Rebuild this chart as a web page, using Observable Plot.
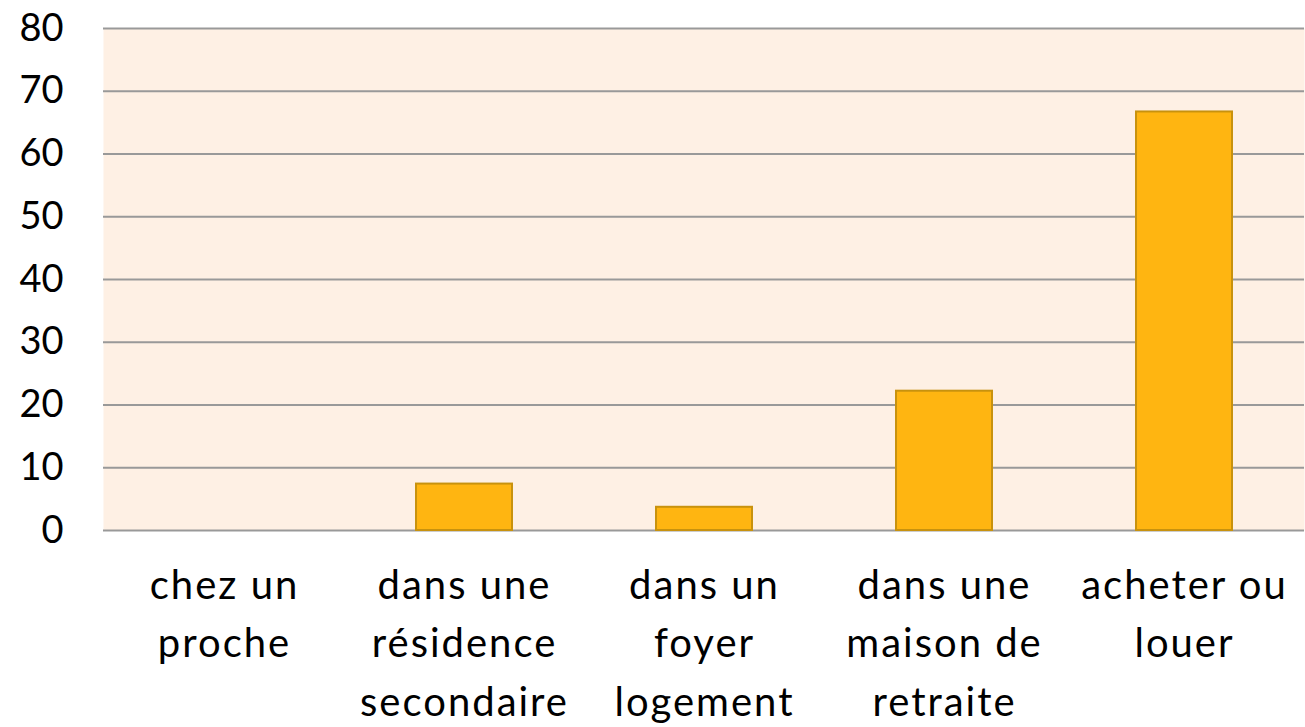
<!DOCTYPE html>
<html><head><meta charset="utf-8">
<script src="https://cdn.jsdelivr.net/npm/d3@7"></script>
<script src="https://cdn.jsdelivr.net/npm/@observablehq/plot@0.6"></script>
<style>
html,body{margin:0;padding:0;background:#fff;}
#chart svg{display:block;}
</style></head>
<body><div id="chart"></div>
<script>
const categories = ["chez un\nproche", "dans une\nrésidence\nsecondaire", "dans un\nfoyer\nlogement", "dans une\nmaison de\nretraite", "acheter ou\nlouer"];
const values = [0, 7.4, 3.7, 22.2, 66.7];
const yTicks = [0, 10, 20, 30, 40, 50, 60, 70, 80];

const data = categories.map((c, i) => ({cat: c, value: values[i]}));

const chart = Plot.plot({
  width: 1305,
  height: 727,
  marginLeft: 103,
  marginRight: 1,
  marginTop: 28,
  marginBottom: 197,
  style: {fontFamily: "Lato, sans-serif", fontSize: "38px", color: "#000", background: "#fff"},
  x: {domain: categories, paddingInner: 0.6, paddingOuter: 0.3, align: 0.5},
  y: {domain: [0, 80]},
  marks: [
    Plot.frame({fill: "#FEF0E4", stroke: "none"}),
    Plot.gridY(yTicks, {stroke: "#999", strokeOpacity: 1, strokeWidth: 2}),
    Plot.ruleX([0], {frameAnchor: "left", stroke: "#999", strokeWidth: 2}),
    Plot.barY(data, {x: "cat", y: "value", fill: "#FFB511", stroke: "#C8920E", strokeWidth: 2}),
    Plot.axisY(yTicks, {tickSize: 0, tickPadding: 40, fontSize: 38, label: null, textAnchor: "end"}),
    Plot.axisX({tickSize: 0, tickPadding: 27, fontSize: 40, lineHeight: 1.46, label: null})
  ]
});
chart.querySelectorAll("g[aria-label='x-axis tick label'] text").forEach(t => t.style.letterSpacing = "2px");
document.getElementById("chart").appendChild(chart);
</script></body></html>
